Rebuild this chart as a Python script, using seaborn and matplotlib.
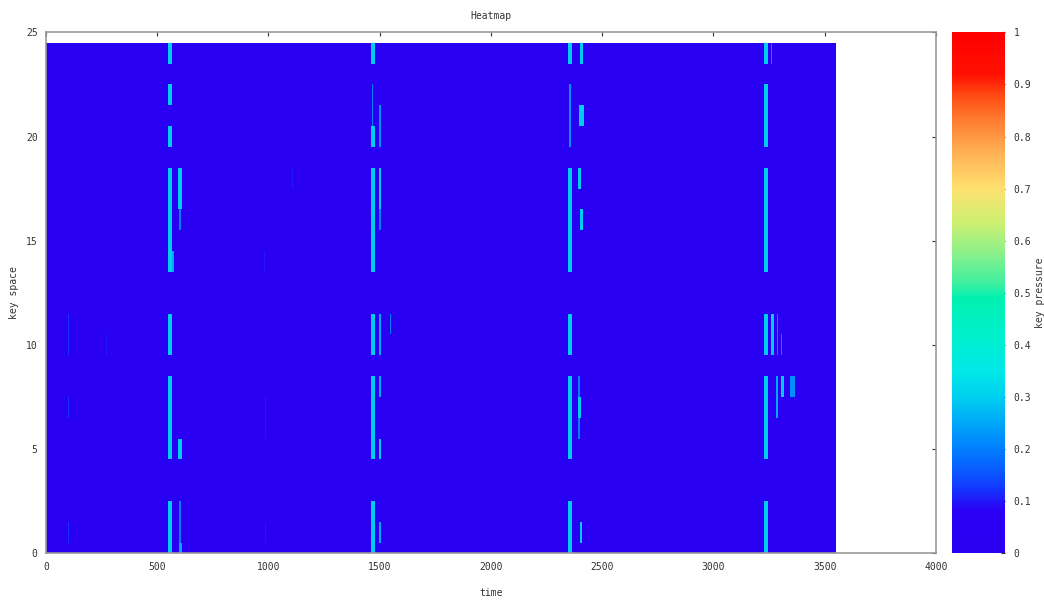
"""Key pressure heatmap: key space vs time."""
import numpy as np
import pandas as pd
import matplotlib
matplotlib.use("Agg")
import matplotlib.pyplot as plt
import seaborn as sns
from matplotlib.colors import LinearSegmentedColormap

# grid of the recording
BIN = 5
N_KEYS = 25
T_END = 3550
keys = list(range(N_KEYS))
time_bins = list(range(0, T_END, BIN))

# notes per cluster: (first key, last key, start time, end time, pressure)
cluster_1 = [
    (24, 24, 548, 566, 0.30), (22, 22, 548, 566, 0.30), (20, 20, 548, 566, 0.30),
    (14, 18, 548, 566, 0.30), (10, 11, 548, 566, 0.30), (5, 8, 548, 566, 0.30),
    (0, 2, 548, 566, 0.30),
    (17, 18, 596, 610, 0.30), (16, 16, 600, 606, 0.20), (14, 14, 564, 574, 0.25),
    (5, 5, 596, 610, 0.30), (1, 2, 600, 606, 0.20), (0, 0, 600, 608, 0.25),
]
cluster_2 = [
    (24, 24, 1461, 1479, 0.30), (21, 22, 1464, 1472, 0.20), (20, 20, 1461, 1479, 0.30),
    (14, 18, 1461, 1479, 0.30), (10, 11, 1461, 1479, 0.30), (5, 8, 1461, 1479, 0.30),
    (0, 2, 1461, 1479, 0.30),
    (20, 21, 1497, 1506, 0.22), (17, 18, 1494, 1506, 0.30), (16, 16, 1497, 1504, 0.20),
    (10, 11, 1494, 1506, 0.25), (11, 11, 1547, 1552, 0.20), (8, 8, 1494, 1504, 0.25),
    (5, 5, 1494, 1506, 0.30), (1, 1, 1494, 1504, 0.25),
]
cluster_3 = [
    (24, 24, 2347, 2365, 0.30), (20, 22, 2350, 2360, 0.22), (14, 18, 2347, 2365, 0.30),
    (10, 11, 2347, 2365, 0.30), (5, 8, 2347, 2365, 0.30), (0, 2, 2347, 2365, 0.30),
    (24, 24, 2401, 2415, 0.30), (21, 21, 2395, 2420, 0.30), (18, 18, 2390, 2405, 0.30),
    (16, 16, 2400, 2415, 0.30), (6, 8, 2390, 2398, 0.20), (7, 7, 2390, 2405, 0.30),
    (1, 1, 2400, 2412, 0.30),
]
cluster_4 = [
    (24, 24, 3225, 3243, 0.30), (20, 22, 3225, 3243, 0.30), (14, 18, 3225, 3243, 0.30),
    (10, 11, 3225, 3243, 0.30), (5, 8, 3225, 3243, 0.30), (0, 2, 3225, 3243, 0.30),
    (24, 24, 3258, 3264, 0.20), (10, 11, 3261, 3270, 0.30), (10, 11, 3283, 3288, 0.20),
    (10, 10, 3306, 3311, 0.20), (7, 8, 3278, 3288, 0.25), (8, 8, 3306, 3316, 0.30),
    (8, 8, 3343, 3363, 0.22),
]
faint_marks = [
    (10, 11, 100, 105, 0.12), (7, 7, 100, 105, 0.12), (1, 1, 100, 105, 0.12),
    (10, 10, 270, 275, 0.10), (14, 14, 980, 985, 0.10), (6, 7, 985, 990, 0.10),
    (1, 1, 985, 990, 0.10), (18, 18, 1105, 1110, 0.10),
]

x_ticks = [0, 500, 1000, 1500, 2000, 2500, 3000, 3500, 4000]
y_ticks = [0, 5, 10, 15, 20, 25]
cbar_ticks = [0, 0.1, 0.2, 0.3, 0.4, 0.5, 0.6, 0.7, 0.8, 0.9, 1]

palette = LinearSegmentedColormap.from_list("keypress", [
    (0.00, "#2a00f2"), (0.08, "#2a00f6"), (0.13, "#1040ff"), (0.20, "#0080ff"),
    (0.25, "#00a8f8"), (0.30, "#00d0f0"), (0.35, "#00e8e8"), (0.42, "#00f0cc"),
    (0.49, "#00f0b0"), (0.52, "#40f0a0"), (0.58, "#90f088"), (0.64, "#d0f070"),
    (0.70, "#ffe070"), (0.76, "#ffb858"), (0.82, "#ff8838"), (0.87, "#ff5818"),
    (0.92, "#ff1000"), (1.00, "#ff0000"),
])

grid = np.zeros((N_KEYS, len(time_bins)))
centers = np.array(time_bins) + BIN / 2
for k0, k1, t0, t1, level in cluster_1 + cluster_2 + cluster_3 + cluster_4 + faint_marks:
    cols = (centers >= t0) & (centers < t1)
    grid[k0:k1 + 1, cols] = np.maximum(grid[k0:k1 + 1, cols], level)
df = pd.DataFrame(grid, index=keys, columns=time_bins)

sns.set_style("white")
plt.rcParams["font.family"] = ["DejaVu Sans Mono", "DejaVu Sans"]
fig = plt.figure(figsize=(10.44, 6.0), dpi=100)
ax = fig.add_axes([0.044, 0.078, 0.8525, 0.868])
cax = fig.add_axes([0.912, 0.078, 0.051, 0.868])

sns.heatmap(df, ax=ax, cbar_ax=cax, cmap=palette, vmin=0, vmax=1,
            xticklabels=False, yticklabels=False, rasterized=True)

ax.set_xlim(0, 4000 / BIN)
ax.set_ylim(0.5, N_KEYS + 0.5)
ax.set_xticks([t / BIN for t in x_ticks])
ax.set_xticklabels([str(t) for t in x_ticks])
ax.set_yticks([k + 0.5 for k in y_ticks])
ax.set_yticklabels([str(k) for k in y_ticks])
ax.tick_params(direction="in", length=3, labelsize=7, colors="#333333",
               top=True, right=True, pad=6)
for s in ax.spines.values():
    s.set_visible(True)
    s.set_color("#999999")
    s.set_linewidth(1.2)
ax.set_title("Heatmap", fontsize=7, color="#333333", pad=10)
ax.set_xlabel("time", fontsize=7, color="#333333", labelpad=12)
ax.set_ylabel("key space", fontsize=7, color="#333333", labelpad=5)

cbar = ax.collections[0].colorbar
cbar.set_ticks(cbar_ticks)
cbar.set_ticklabels([f"{v:g}" for v in cbar_ticks])
cbar.ax.tick_params(direction="in", length=3, labelsize=7, colors="#333333", pad=6)
cbar.outline.set_visible(True)
cbar.outline.set_edgecolor("#555555")
cbar.ax.set_ylabel("key pressure", fontsize=7, color="#333333", labelpad=3)

fig.savefig("out.png", dpi=100, facecolor="white")
